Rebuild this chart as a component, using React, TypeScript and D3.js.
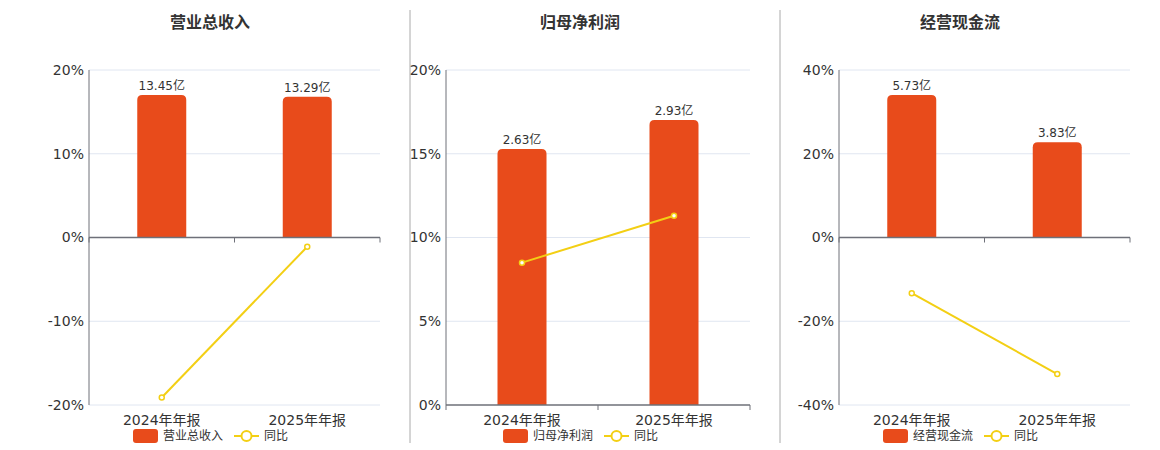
import * as d3 from 'd3';

const categories = ['2024年年报', '2025年年报'];
const titles = ['营业总收入', '归母净利润', '经营现金流'];
const barLabels = [
    ['13.45亿', '13.29亿'],
    ['2.63亿', '2.93亿'],
    ['5.73亿', '3.83亿'],
];
const barValues = [
    [13.45, 13.29],
    [2.63, 2.93],
    [5.73, 3.83],
];
const yoyValues = [
    [-19.1, -1.1],
    [8.5, 11.3],
    [-13.3, -32.6],
];
const yTicks = [
    [-20, -10, 0, 10, 20],
    [0, 5, 10, 15, 20],
    [-40, -20, 0, 20, 40],
];

const W = 1160;
const H = 450;
const top = 70;
const bottom = 405;
const panels = [
    { left: 89, right: 380, center: 210, sep: null as number | null },
    { left: 446, right: 750, center: 580, sep: 410 },
    { left: 839, right: 1130, center: 960, sep: 780 },
];

const barColor = '#e84b1b';
const lineColor = '#f3cf14';
const axisColor = '#6e7079';
const gridColor = '#e0e6f1';
const font = '"DejaVu Sans", "Noto Sans CJK SC", sans-serif';

function topRounded(x: number, y: number, w: number, h: number, r: number) {
    const rr = Math.min(r, h, w / 2);
    return `M${x},${y + h}V${y + rr}Q${x},${y} ${x + rr},${y}H${x + w - rr}Q${x + w},${y} ${x + w},${y + rr}V${y + h}Z`;
}

function Panel({ i }: { i: number }) {
    const p = panels[i];
    const ticks = yTicks[i];
    const y = d3
        .scaleLinear()
        .domain([ticks[0], ticks[ticks.length - 1]])
        .range([bottom, top]);
    const x = d3.scaleBand().domain(categories).range([p.left, p.right]);
    const zeroY = y(0);
    const maxBar = d3.max(barValues[i])!;
    const yBar = d3
        .scaleLinear()
        .domain([0, maxBar * 1.175])
        .range([zeroY, top]);
    const barW = 49;
    const line = d3
        .line<number>()
        .x((_, j) => x(categories[j])! + x.bandwidth() / 2)
        .y((d) => y(d));

    const legendStart = p.center - 77;
    const tickXs = [p.left, ...categories.map((c) => x(c)! + x.bandwidth()), p.right];

    return (
        <g>
            {p.sep !== null && <line x1={p.sep} x2={p.sep} y1={10} y2={443} stroke="#aaaaaa" strokeWidth={1} />}
            <text x={p.center} y={28} textAnchor="middle" fontSize={16} fontWeight="bold" fill="#333">
                {titles[i]}
            </text>
            {ticks.map((t) => (
                <g key={t}>
                    {t !== 0 && <line x1={p.left} x2={p.right} y1={y(t)} y2={y(t)} stroke={gridColor} strokeWidth={1} />}
                    <text x={p.left - 5} y={y(t)} dy="0.35em" textAnchor="end" fontSize={14} fill="#333">
                        {t}%
                    </text>
                </g>
            ))}
            <line x1={p.left} x2={p.left} y1={top} y2={bottom} stroke={axisColor} strokeWidth={1} />
            {barValues[i].map((v, j) => {
                const bx = x(categories[j])! + x.bandwidth() / 2 - barW / 2;
                const by = yBar(v);
                return (
                    <g key={j}>
                        <path d={topRounded(bx, by, barW, zeroY - by, 5)} fill={barColor} />
                        <text x={bx + barW / 2} y={by - 5} textAnchor="middle" fontSize={12} fill="#333">
                            {barLabels[i][j]}
                        </text>
                    </g>
                );
            })}
            <line x1={p.left} x2={p.right} y1={zeroY} y2={zeroY} stroke={axisColor} strokeWidth={1.5} />
            {Array.from(new Set(tickXs)).map((tx) => (
                <line key={tx} x1={tx} x2={tx} y1={zeroY} y2={zeroY + 5} stroke={axisColor} strokeWidth={1} />
            ))}
            {categories.map((c) => (
                <text key={c} x={x(c)! + x.bandwidth() / 2} y={425} textAnchor="middle" fontSize={14} fill="#333">
                    {c}
                </text>
            ))}
            <path d={line(yoyValues[i])!} fill="none" stroke={lineColor} strokeWidth={2} />
            {yoyValues[i].map((v, j) => (
                <circle
                    key={j}
                    cx={x(categories[j])! + x.bandwidth() / 2}
                    cy={y(v)}
                    r={2.5}
                    fill="#fff"
                    stroke={lineColor}
                    strokeWidth={1.5}
                />
            ))}
            <g>
                <rect x={legendStart} y={429} width={25} height={14} rx={3} fill={barColor} />
                <text x={legendStart + 30} y={436} dy="0.35em" fontSize={12} fill="#333">
                    {titles[i]}
                </text>
                <line x1={legendStart + 101} x2={legendStart + 126} y1={436} y2={436} stroke={lineColor} strokeWidth={2} />
                <circle cx={legendStart + 113.5} cy={436} r={5} fill="#fff" stroke={lineColor} strokeWidth={2} />
                <text x={legendStart + 131} y={436} dy="0.35em" fontSize={12} fill="#333">
                    同比
                </text>
            </g>
        </g>
    );
}

export default function App() {
    return (
        <div style={{ position: 'absolute', left: 0, top: 0 }}>
            <svg width={W} height={H} fontFamily={font} style={{ display: 'block', background: '#fff' }}>
                {panels.map((_, i) => (
                    <Panel key={i} i={i} />
                ))}
            </svg>
        </div>
    );
}
